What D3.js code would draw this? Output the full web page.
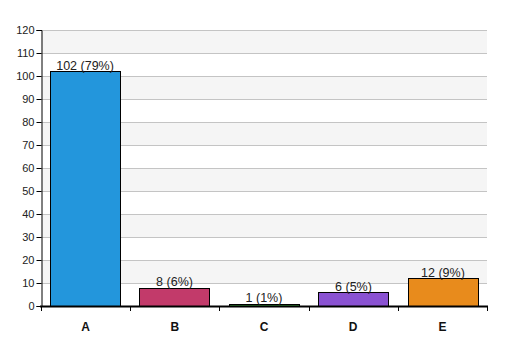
<!DOCTYPE html>
<html><head><meta charset="utf-8">
<script src="https://cdn.jsdelivr.net/npm/d3@7"></script>
<style>body{margin:0;background:#fff}svg{display:block}text{font-family:"Liberation Sans",Arial,sans-serif}</style>
</head><body><svg id="c" width="507" height="356"></svg>
<script>
const categories = ["A","B","C","D","E"];
const values = [102, 8, 1, 6, 12];
const labels = ["102 (79%)","8 (6%)","1 (1%)","6 (5%)","12 (9%)"];
const colors = ["#2396dc","#c23a6a","#3a9a3a","#8a52d2","#e88b1c"];
const yTicks = [0,10,20,30,40,50,60,70,80,90,100,110,120];

const svg = d3.select("#c");
const m = {l:41, r:20, t:30, b:50};
const W = 507, H = 356;
const x = d3.scaleBand().domain(categories).range([m.l, W - m.r]).paddingInner(0.215).paddingOuter(0.1);
const xb = d3.scaleBand().domain(categories).range([m.l, W - m.r]);
const y = d3.scaleLinear().domain([0,120]).range([H - m.b, m.t]);

// alternating bands
const bands = yTicks.slice(0,-1).filter((d,i)=> i % 2 === 1);
svg.selectAll("rect.band").data(bands).enter().append("rect")
  .attr("x", m.l).attr("width", W - m.r - m.l)
  .attr("y", d => y(d + 10)).attr("height", d => y(d) - y(d + 10))
  .attr("fill", "#f5f5f5");

// grid
svg.selectAll("line.grid").data(yTicks.slice(1)).enter().append("line")
  .attr("x1", m.l).attr("x2", W - m.r)
  .attr("y1", d => y(d) + 0.5).attr("y2", d => y(d) + 0.5)
  .attr("stroke", "#c4c4c4").attr("stroke-width", 1);

// y axis
const ya = svg.append("g").attr("transform", `translate(${m.l + 0.5},0)`)
  .call(d3.axisLeft(y).tickValues(yTicks).tickSize(5).tickPadding(2));
ya.select(".domain").attr("stroke", "#000");
ya.selectAll(".tick line").attr("stroke", "#000");
ya.selectAll("text").attr("font-size", 11).attr("fill", "#222")
  .attr("font-family", '"Liberation Sans",Arial,sans-serif');

// bars
svg.selectAll("rect.bar").data(values).enter().append("rect")
  .attr("x", (d,i) => Math.round(x(categories[i])) + 0.5)
  .attr("width", Math.round(x.bandwidth()))
  .attr("y", d => Math.round(y(d)) + 0.5)
  .attr("height", d => Math.round(y(0)) - Math.round(y(d)))
  .attr("fill", (d,i) => colors[i]).attr("stroke", "#000").attr("stroke-width", 1);

// bar labels
svg.selectAll("text.lab").data(values).enter().append("text")
  .attr("x", (d,i) => x(categories[i]) + x.bandwidth()/2)
  .attr("y", d => y(d) - 1.5)
  .attr("text-anchor", "middle").attr("font-size", 12.5).attr("fill", "#222")
  .text((d,i) => labels[i]);

// x axis
const xa = svg.append("g").attr("transform", `translate(0,${y(0)})`);
xa.append("line").attr("x1", m.l - 1).attr("x2", W - m.r + 1).attr("y1", 0.5).attr("y2", 0.5)
  .attr("stroke", "#000").attr("stroke-width", 2);
const tickXs = [m.l].concat(categories.map(c => xb(c) + xb.bandwidth()));
xa.selectAll("line.t").data(tickXs).enter().append("line")
  .attr("x1", d => Math.round(d) + 0.5).attr("x2", d => Math.round(d) + 0.5)
  .attr("y1", 0).attr("y2", 5).attr("stroke", "#000");
xa.selectAll("text").data(categories).enter().append("text")
  .attr("x", d => xb(d) + xb.bandwidth()/2).attr("y", 25)
  .attr("text-anchor", "middle").attr("font-size", 12).attr("font-weight", "bold").attr("fill", "#111")
  .text(d => d);
</script></body></html>
